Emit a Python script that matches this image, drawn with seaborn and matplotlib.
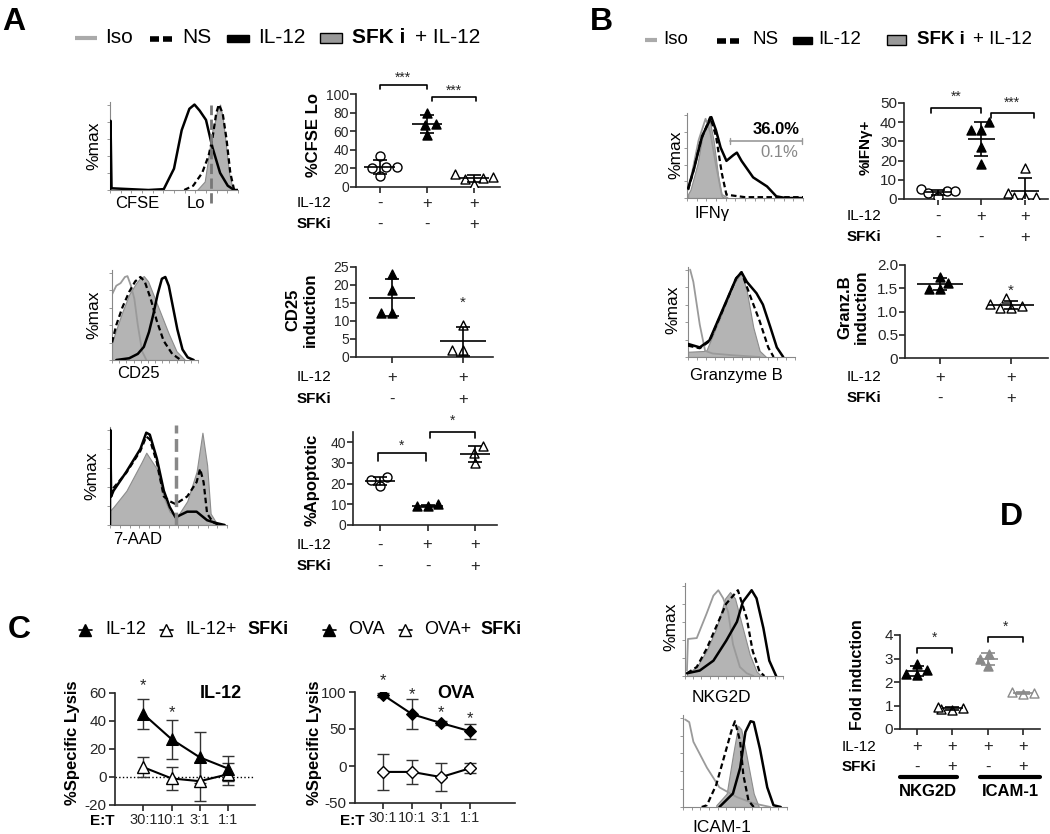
import numpy as np
import pandas as pd
import matplotlib
matplotlib.use("Agg")
import matplotlib.pyplot as plt
import matplotlib.transforms as mtrans
from matplotlib.patches import Rectangle
import seaborn as sns

W, H = 1050, 834
sns.set_style("ticks")
plt.rcParams['font.family'] = ['Liberation Sans', 'DejaVu Sans']
plt.rcParams['axes.unicode_minus'] = False

GRAY = '#9a9a9a'
FILL = '#b4b4b4'

# ---------------- histogram outlines (x, y as fraction of axis) ----------------
cfse_il12 = [(0, 0), (0.004, 0.81), (0.012, 0.02), (0.3, 0), (0.42, 0.01), (0.5, 0.25), (0.56, 0.7),
             (0.62, 0.95), (0.66, 1.0), (0.7, 0.93), (0.75, 0.82), (0.8, 0.5), (0.86, 0.2), (0.92, 0.05), (0.97, 0), (1, 0)]
cfse_ns = [(0.58, 0), (0.65, 0.05), (0.72, 0.2), (0.77, 0.4), (0.8, 0.6), (0.83, 0.9), (0.85, 1.0),
           (0.88, 0.9), (0.91, 0.6), (0.94, 0.2), (0.97, 0)]
cfse_sfk = [(0.68, 0), (0.74, 0.1), (0.78, 0.5), (0.8, 0.7), (0.82, 0.8), (0.84, 0.95), (0.86, 1.0),
            (0.88, 0.85), (0.9, 0.6), (0.93, 0.2), (0.96, 0)]

cd25_iso = [(0, 0.75), (0.05, 0.85), (0.1, 0.88), (0.15, 0.95), (0.18, 0.96), (0.22, 0.85), (0.26, 0.7),
            (0.3, 0.4), (0.35, 0.1), (0.4, 0)]
cd25_ns = [(0, 0.2), (0.05, 0.4), (0.12, 0.6), (0.2, 0.78), (0.27, 0.9), (0.33, 0.95), (0.38, 0.9),
           (0.45, 0.7), (0.52, 0.45), (0.6, 0.22), (0.7, 0.07), (0.8, 0)]
cd25_sfk = [(0, 0.2), (0.05, 0.35), (0.12, 0.55), (0.2, 0.75), (0.28, 0.88), (0.33, 0.94), (0.37, 0.96),
            (0.42, 0.9), (0.5, 0.7), (0.58, 0.5), (0.66, 0.3), (0.75, 0.1), (0.85, 0)]
cd25_il12 = [(0.05, 0), (0.2, 0.02), (0.3, 0.07), (0.37, 0.15), (0.43, 0.32), (0.48, 0.52), (0.53, 0.75),
             (0.58, 0.93), (0.62, 0.95), (0.66, 0.85), (0.7, 0.65), (0.76, 0.35), (0.82, 0.12), (0.88, 0.03), (0.95, 0)]

aad_il12 = [(0, 0), (0.002, 1.0), (0.01, 0.3), (0.03, 0.36), (0.14, 0.56), (0.26, 0.8), (0.31, 0.97),
            (0.34, 0.95), (0.4, 0.7), (0.46, 0.36), (0.51, 0.19), (0.56, 0.08), (0.66, 0.14), (0.74, 0.14),
            (0.83, 0.05), (0.91, 0.02), (0.98, 0)]
aad_ns = [(0, 0.3), (0.03, 0.39), (0.14, 0.55), (0.26, 0.78), (0.31, 0.93), (0.34, 0.9), (0.4, 0.66),
          (0.46, 0.3), (0.51, 0.25), (0.56, 0.22), (0.66, 0.3), (0.74, 0.45), (0.77, 0.59), (0.8, 0.45),
          (0.83, 0.12), (0.88, 0.03), (0.93, 0)]
aad_sfk = [(0, 0.15), (0.03, 0.19), (0.14, 0.36), (0.27, 0.66), (0.31, 0.76), (0.4, 0.59), (0.46, 0.29),
           (0.51, 0.14), (0.57, 0.08), (0.66, 0.25), (0.74, 0.56), (0.79, 0.97), (0.83, 0.63), (0.86, 0.12),
           (0.91, 0.02), (0.95, 0)]

ifn_iso = [(0.01, 0.1), (0.05, 0.35), (0.1, 0.7), (0.16, 0.96), (0.2, 0.8), (0.25, 0.4), (0.3, 0.04), (0.35, 0)]
ifn_sfk = [(0.01, 0.05), (0.03, 0.1), (0.09, 0.41), (0.14, 0.8), (0.19, 0.98), (0.23, 0.69), (0.27, 0.25),
           (0.3, 0.02), (0.33, 0)]
ifn_ns = [(0.01, 0.1), (0.05, 0.3), (0.12, 0.7), (0.2, 0.98), (0.25, 0.75), (0.3, 0.3), (0.34, 0.04),
          (0.5, 0.01), (1, 0.01)]
ifn_il12 = [(0.01, 0.12), (0.06, 0.35), (0.13, 0.75), (0.21, 0.98), (0.25, 0.82), (0.29, 0.61), (0.34, 0.45),
            (0.4, 0.52), (0.43, 0.55), (0.47, 0.45), (0.57, 0.25), (0.69, 0.14), (0.77, 0.02), (0.85, 0), (1, 0)]

gzb_iso = [(0.02, 1.0), (0.05, 0.86), (0.11, 0.37), (0.16, 0.07), (0.23, 0.04), (0.42, 0.02), (0.67, 0)]
gzb_sfk = [(0, 0.06), (0.17, 0.07), (0.3, 0.45), (0.42, 0.82), (0.5, 0.97), (0.55, 0.75), (0.61, 0.34),
           (0.67, 0.07), (0.73, 0)]
gzb_ns = [(0, 0.13), (0.11, 0.1), (0.2, 0.18), (0.33, 0.55), (0.45, 0.9), (0.5, 0.97), (0.59, 0.67),
          (0.67, 0.41), (0.75, 0.11), (0.8, 0)]
gzb_il12 = [(0, 0.15), (0.11, 0.11), (0.2, 0.19), (0.33, 0.56), (0.45, 0.9), (0.5, 0.97), (0.55, 0.86),
            (0.64, 0.73), (0.7, 0.6), (0.77, 0.34), (0.83, 0.11), (0.89, 0)]

nkg_iso = [(0.02, 0.06), (0.03, 0.41), (0.12, 0.42), (0.22, 0.69), (0.29, 0.89), (0.34, 0.95), (0.39, 0.86),
           (0.44, 0.71), (0.49, 0.35), (0.56, 0.1), (0.63, 0.03), (0.7, 0)]
nkg_sfk = [(0.02, 0.03), (0.12, 0.1), (0.22, 0.28), (0.32, 0.53), (0.41, 0.86), (0.46, 0.93), (0.51, 0.86),
           (0.58, 0.57), (0.66, 0.24), (0.73, 0.05), (0.78, 0)]
nkg_ns = [(0.02, 0.03), (0.12, 0.1), (0.22, 0.3), (0.32, 0.55), (0.42, 0.8), (0.54, 0.95), (0.63, 0.64),
          (0.69, 0.28), (0.76, 0.05), (0.81, 0)]
nkg_il12 = [(0.02, 0.03), (0.15, 0.06), (0.29, 0.17), (0.42, 0.39), (0.53, 0.6), (0.59, 0.82), (0.68, 0.95),
            (0.73, 0.86), (0.8, 0.53), (0.86, 0.17), (0.93, 0)]

icam_iso = [(0.02, 0.98), (0.06, 0.95), (0.1, 0.73), (0.23, 0.44), (0.35, 0.22), (0.52, 0.11), (0.68, 0.04), (0.84, 0)]
icam_ns = [(0.18, 0), (0.23, 0.02), (0.32, 0.25), (0.4, 0.58), (0.47, 0.87), (0.5, 0.96), (0.55, 0.73),
           (0.58, 0.36), (0.63, 0.07), (0.68, 0)]
icam_sfk = [(0.32, 0.02), (0.42, 0.15), (0.48, 0.58), (0.53, 0.91), (0.56, 0.87), (0.61, 0.58), (0.68, 0.15),
            (0.73, 0)]
icam_il12 = [(0.35, 0), (0.48, 0.15), (0.55, 0.44), (0.6, 0.84), (0.65, 0.96), (0.68, 0.95), (0.74, 0.65),
             (0.81, 0.22), (0.87, 0.02), (0.94, 0)]

# ---------------- dot plot values ----------------
cfse_ns_pts = [33, 21, 20, 22, 12]
cfse_il12_pts = [80, 67, 68, 56]
cfse_sfk_pts = [10, 9, 11, 14, 3]
cd25_il12_pts = [23, 18.5, 12.3, 12.3]
cd25_sfk_pts = [9, 2, 2]
apo_ns_pts = [23, 22, 19]
apo_il12_pts = [10, 9, 9]
apo_sfk_pts = [38, 35, 30]
ifn_ns_pts = [4, 5, 3, 1, 4]
ifn_il12_pts = [40, 36, 36, 27, 18]
ifn_sfk_pts = [16, 1, 1, 1, 3]
gzb_il12_pts = [1.75, 1.62, 1.48, 1.48]
gzb_sfk_pts = [1.28, 1.17, 1.08, 1.08, 1.12]
nkg_il12_pts = [2.75, 2.5, 2.3, 2.35]
nkg_sfk_pts = [0.9, 0.85, 0.95, 0.8]
icam_il12_pts = [3.2, 3.0, 2.7]
icam_sfk_pts = [1.55, 1.5, 1.58]

# ---------------- lysis curves ----------------
et_ratios = ['30:1', '10:1', '3:1', '1:1']
lys_il12 = [45, 27, 14, 6]
lys_il12_err = [11, 14, 18, 9]
lys_il12_sfk = [7, -1, -3, 2]
lys_il12_sfk_err = [7, 8, 14, 8]
lys_ova = [96, 70, 58, 47]
lys_ova_err = [3, 20, 3, 10]
lys_ova_sfk = [-8, -8, -15, -3]
lys_ova_sfk_err = [24, 16, 19, 7]

fig = plt.figure(figsize=(W / 100, H / 100), dpi=100)


def px_ax(x0, y0, x1, y1):
    ax = fig.add_axes([x0 / W, 1 - y1 / H, (x1 - x0) / W, (y1 - y0) / H])
    ax.patch.set_visible(False)
    return ax


ov = fig.add_axes([0, 0, 1, 1], zorder=10)
ov.set_xlim(0, W)
ov.set_ylim(H, 0)
ov.axis('off')
ov.patch.set_visible(False)


def hist(box, iso=None, ns=None, il12=None, sfk=None):
    ax = px_ax(*box)
    if sfk is not None:
        x, y = zip(*sfk)
        ax.fill_between(x, y, color=FILL, edgecolor='#8c8c8c', lw=0.8, zorder=1)
    if iso is not None:
        x, y = zip(*iso)
        ax.plot(x, y, color=GRAY, lw=1.3, zorder=2)
    if ns is not None:
        x, y = zip(*ns)
        ax.plot(x, y, color='k', lw=1.6, dashes=(2.5, 1.5), zorder=3)
    if il12 is not None:
        x, y = zip(*il12)
        ax.plot(x, y, color='k', lw=1.8, zorder=4)
    ax.set_xlim(0, 1)
    ax.set_ylim(0, 1.03)
    sns.despine(ax=ax)
    for s in ['left', 'bottom']:
        ax.spines[s].set_color('#888')
    ax.set_yticks(np.linspace(0, 1, 6))
    ax.set_xticks(np.linspace(0, 1, 13))
    ax.set_xticklabels([])
    ax.set_yticklabels([])
    ax.tick_params(length=2.5, width=0.6, color='#888')
    return ax


def txt(x, y, s, fs=11, bold=False, ha='left', color='k', rot=0, **kw):
    ov.text(x, y, s, fontsize=fs, fontweight='bold' if bold else 'normal', ha=ha, va='center',
            color=color, rotation=rot, **kw)


def dotplot(box, groups, styles, xlim, ylim, yticks, ylabels, fs=10, hw=0.32):
    ax = px_ax(*box)
    cats = [str(i) for i in range(len(groups))]
    df = pd.DataFrame({'grp': [c for c, g in zip(cats, groups) for _ in g],
                       'val': [v for g in groups for v in g]})
    for i, (vals, st) in enumerate(zip(groups, styles)):
        face, edge, mk, line = st
        sns.swarmplot(data=df[df.grp == cats[i]], x='grp', y='val', order=cats, ax=ax,
                      marker=mk, color=face, edgecolor=edge, linewidth=1, size=6.5, zorder=3)
        m, sd = np.mean(vals), np.std(vals, ddof=1)
        ax.hlines(m, i - hw, i + hw, color=line, lw=1.2, zorder=4)
        ax.errorbar(i, m, yerr=sd, color=line, capsize=5, lw=1.2, capthick=1.2, zorder=4)
    ax.set_xlim(*xlim)
    ax.set_ylim(*ylim)
    ax.set_yticks(yticks)
    ax.set_yticklabels(ylabels, fontsize=fs)
    ax.set_xticks(range(len(groups)))
    ax.set_xticklabels([])
    ax.set_xlabel('')
    ax.set_ylabel('')
    sns.despine(ax=ax)
    for s in ['left', 'bottom']:
        ax.spines[s].set_linewidth(1.2)
    ax.tick_params(length=4, width=1.2, pad=1)
    return ax


def rows(ax, xlab, spec, fs=11):
    trans = mtrans.blended_transform_factory(ax.transData, ov.transData)
    for y, label, signs, bold in spec:
        txt(xlab, y, label, fs=fs, bold=bold)
        for i, s in enumerate(signs):
            ax.text(i, y, s, transform=trans, ha='center', va='center', fontsize=12)


def bracket(ax, x0, x1, y, leg, star, ty, fs=10, color='k'):
    ax.plot([x0, x0, x1, x1], [y - leg, y, y, y - leg], color=color, lw=1.2, clip_on=False)
    ax.text((x0 + x1) / 2, ty, star, ha='center', va='center', fontsize=fs, clip_on=False)


def legend_row(x_iso, x_ns, x_il, x_box, y, fs, xt, iso_len, dash, rect_w):
    ov.plot([x_iso, x_iso + iso_len], [y + 1, y + 1], color='#aaa', lw=3, solid_capstyle='butt')
    ov.plot([x_ns, x_ns + dash], [y + 2, y + 2], color='k', lw=4, solid_capstyle='butt')
    ov.plot([x_ns + dash + 4, x_ns + 2 * dash + 4], [y + 2, y + 2], color='k', lw=4, solid_capstyle='butt')
    ov.add_patch(Rectangle((x_il, y - 2), rect_w, 7, color='k'))
    ov.add_patch(Rectangle((x_box, y - 4), rect_w, 10, facecolor='#999', edgecolor='k', lw=1))
    for (x, s, b) in zip(xt, ['Iso', 'NS', 'IL-12', 'SFK i', '+ IL-12'], [0, 0, 0, 1, 0]):
        txt(x, y, s, fs=fs, bold=bool(b))


NS = ('white', 'k', 'o', 'k')
IL = ('k', 'k', '^', 'k')
SF = ('white', 'k', '^', 'k')
IL_G = ('#8a8a8a', '#8a8a8a', '^', '#8a8a8a')
SF_G = ('white', '#8a8a8a', '^', '#8a8a8a')

# ================= Panel A =================
txt(2, 22, 'A', fs=23, bold=True)
legend_row(75, 150, 227, 320, 37, 15, [105, 182, 258, 352, 415], 22, 9, 22)

h = hist((110, 102, 238, 190), ns=cfse_ns, il12=cfse_il12, sfk=cfse_sfk)
h.plot([0.79, 0.79], [-0.15, 1.0], color='#777', lw=2, ls='--', clip_on=False, zorder=5)
txt(94, 146, '%max', fs=12.5, ha='center', rot=90)
txt(115, 203, 'CFSE', fs=12)
txt(187, 203, 'Lo', fs=12)

hist((112, 270, 198, 360), iso=cd25_iso, ns=cd25_ns, il12=cd25_il12, sfk=cd25_sfk)
txt(94, 315, '%max', fs=12.5, ha='center', rot=90)
txt(117, 373, 'CD25', fs=12)

h = hist((110, 427, 227, 525), ns=aad_ns, il12=aad_il12, sfk=aad_sfk)
h.plot([0.56, 0.56], [0, 1.05], color='#888', lw=2.5, ls='--', clip_on=False, zorder=5)
txt(92, 476, '%max', fs=12.5, ha='center', rot=90)
txt(113, 540, '7-AAD', fs=12)

ax = dotplot((356, 94, 500, 187), [cfse_ns_pts, cfse_il12_pts, cfse_sfk_pts], [NS, IL, SF],
             (-0.5, 2.55), (0, 100), [0, 20, 40, 60, 80, 100], ['0', '20', '40', '60', '80', '100'])
bracket(ax, 0, 1, 110, 5, '***', 117)
bracket(ax, 1.1, 2.05, 97, 5, '***', 103)
txt(313, 135, '%CFSE Lo', fs=12, bold=True, ha='center', rot=90)
rows(ax, 297, [(203, 'IL-12', ['-', '+', '+'], False), (224, 'SFKi', ['-', '-', '+'], True)])

ax = dotplot((356, 267, 493, 357), [cd25_il12_pts, cd25_sfk_pts], [IL, SF],
             (-0.5, 1.42), (0, 25), [0, 5, 10, 15, 20, 25], ['0', '5', '10', '15', '20', '25'], hw=0.32)
ax.text(1, 15, '*', ha='center', va='center', fontsize=11)
txt(293, 310, 'CD25', fs=12, bold=True, ha='center', rot=90)
txt(310, 310, 'induction', fs=12, bold=True, ha='center', rot=90)
rows(ax, 297, [(377, 'IL-12', ['+', '+'], False), (399, 'SFKi', ['-', '+'], True)])

ax = dotplot((353, 432, 497, 525), [apo_ns_pts, apo_il12_pts, apo_sfk_pts], [NS, IL, SF],
             (-0.57, 2.46), (0, 45), [0, 10, 20, 30, 40], ['0', '10', '20', '30', '40'])
bracket(ax, -0.05, 0.97, 34.7, 3.5, '*', 38.5)
bracket(ax, 1.05, 2.0, 44.8, 2.5, '*', 50.6)
txt(312, 480, '%Apoptotic', fs=12, bold=True, ha='center', rot=90)
rows(ax, 297, [(545, 'IL-12', ['-', '+', '+'], False), (566, 'SFKi', ['-', '-', '+'], True)])

# ================= Panel B =================
txt(590, 22, 'B', fs=23, bold=True)
legend_row(645, 717, 793, 887, 39, 13.5, [663, 752, 818, 917, 973], 12, 9, 19)

hist((687, 113, 803, 198), iso=ifn_iso, ns=ifn_ns, il12=ifn_il12, sfk=ifn_sfk)
txt(676, 155, '%max', fs=12.5, ha='center', rot=90)
txt(694, 213, 'IFNγ', fs=12)
ov.plot([730, 802], [141, 141], color='#999', lw=1.2)
ov.plot([730, 730], [138, 144], color='#999', lw=1)
ov.plot([802, 802], [138, 144], color='#999', lw=1)
txt(800, 129, '36.0%', fs=12, bold=True, ha='right')
txt(798, 152, '0.1%', fs=12, ha='right', color='#888')

hist((688, 267, 795, 357), iso=gzb_iso, ns=gzb_ns, il12=gzb_il12, sfk=gzb_sfk)
txt(673, 310, '%max', fs=12.5, ha='center', rot=90)
txt(690, 375, 'Granzyme B', fs=12)

ax = dotplot((904, 103, 1048, 199), [ifn_ns_pts, ifn_il12_pts, ifn_sfk_pts], [NS, IL, SF],
             (-0.78, 2.53), (0, 50), [0, 10, 20, 30, 40, 50], ['0', '10', '20', '30', '40', '50'], fs=11)
bracket(ax, -0.17, 1.0, 47.4, 2.6, '**', 53)
bracket(ax, 1.22, 2.2, 44.8, 2.8, '***', 50)
txt(866, 147, '%IFNγ+', fs=11, bold=True, ha='center', rot=90)
rows(ax, 847, [(216, 'IL-12', ['-', '+', '+'], False), (237, 'SFKi', ['-', '-', '+'], True)])

ax = dotplot((905, 265, 1048, 358), [gzb_il12_pts, gzb_sfk_pts], [IL, SF],
             (-0.49, 1.52), (0, 2.0), [0, 0.5, 1.0, 1.5, 2.0], ['0', '0.5', '1.0', '1.5', '2.0'], fs=11)
ax.text(1, 1.45, '*', ha='center', va='center', fontsize=11)
txt(845, 307, 'Granz.B', fs=12, bold=True, ha='center', rot=90)
txt(861, 307, 'induction', fs=12, bold=True, ha='center', rot=90)
rows(ax, 847, [(377, 'IL-12', ['+', '+'], False), (398, 'SFKi', ['-', '+'], True)])

# ================= Panel C =================
txt(8, 630, 'C', fs=23, bold=True)
for mx, tx, label, face in [(85, 105, 'IL-12', 'k'), (166, 185, 'IL-12+', 'white'),
                            (329, 348, 'OVA', 'k'), (405, 424, 'OVA+', 'white')]:
    ov.plot([mx - 6, mx + 7], [630, 630], color='k', lw=1.2)
    ov.plot([mx], [630], marker='^', mfc=face, mec='k', ms=8)
    txt(tx, 630, label, fs=13)
txt(247, 630, 'SFKi', fs=13, bold=True)
txt(480, 630, 'SFKi', fs=13, bold=True)


def lysis(box, xlim, ylim, yticks, filled, ferr, opened, oerr, mk, ms):
    ax = px_ax(*box)
    pos = np.arange(len(et_ratios))
    ax.errorbar(pos, filled, yerr=ferr, fmt='none', ecolor='#333', capsize=4, lw=1, zorder=2)
    ax.errorbar(pos, opened, yerr=oerr, fmt='none', ecolor='#333', capsize=4, lw=1, zorder=2)
    sns.lineplot(x=pos, y=filled, ax=ax, color='k', lw=1.5, marker=mk, markersize=ms,
                 markerfacecolor='k', markeredgecolor='k', zorder=4)
    sns.lineplot(x=pos, y=opened, ax=ax, color='k', lw=1.5, marker=mk, markersize=ms,
                 markerfacecolor='white', markeredgecolor='k', markeredgewidth=1, zorder=3)
    ax.set_xlim(*xlim)
    ax.set_ylim(*ylim)
    ax.set_yticks(yticks)
    ax.set_yticklabels([str(t) for t in yticks], fontsize=11)
    ax.set_xticks(pos)
    ax.set_xticklabels(et_ratios, fontsize=10.5)
    sns.despine(ax=ax)
    for s in ['left', 'bottom']:
        ax.spines[s].set_linewidth(1.2)
    ax.tick_params(length=4, width=1.2, pad=2)
    return ax


ax = lysis((115, 693, 255, 805), (-1.0, 3.95), (-20, 60), [-20, 0, 20, 40, 60],
           lys_il12, lys_il12_err, lys_il12_sfk, lys_il12_sfk_err, '^', 8)
ax.axhline(0, color='k', lw=1, ls=':', zorder=1)
ax.text(0, 65, '*', ha='center', va='center', fontsize=12, clip_on=False)
ax.text(1, 46, '*', ha='center', va='center', fontsize=12)
txt(200, 694, 'IL-12', fs=13, bold=True)
txt(72, 743, '%Specific Lysis', fs=12, bold=True, ha='center', rot=90)
txt(90, 821, 'E:T', fs=11, bold=True)

ax = lysis((355, 692, 515, 803), (-0.97, 4.55), (-50, 100), [-50, 0, 50, 100],
           lys_ova, lys_ova_err, lys_ova_sfk, lys_ova_sfk_err, 'D', 6)
for i, sy in enumerate([116, 97, 72, 64]):
    ax.text(i, sy, '*', ha='center', va='center', fontsize=12, clip_on=False)
txt(437, 694, 'OVA', fs=13, bold=True)
txt(315, 743, '%Specific Lysis', fs=12, bold=True, ha='center', rot=90)
txt(340, 821, 'E:T', fs=11, bold=True)

# ================= Panel D =================
txt(1000, 517, 'D', fs=23, bold=True)
hist((685, 583, 783, 676), iso=nkg_iso, ns=nkg_ns, il12=nkg_il12, sfk=nkg_sfk)
txt(671, 627, '%max', fs=12.5, ha='center', rot=90)
txt(692, 697, 'NKG2D', fs=12.5)
hist((683, 715, 787, 807), iso=icam_iso, ns=icam_ns, il12=icam_il12, sfk=icam_sfk)
txt(692, 828, 'ICAM-1', fs=12.5)

ax = dotplot((900, 635, 1040, 729), [nkg_il12_pts, nkg_sfk_pts, icam_il12_pts, icam_sfk_pts],
             [IL, SF, IL_G, SF_G], (-0.48, 3.48), (0, 4), [0, 1, 2, 3, 4], ['0', '1', '2', '3', '4'],
             fs=11, hw=0.29)
bracket(ax, 0, 1, 3.45, 0.2, '*', 3.87)
bracket(ax, 2, 3, 3.9, 0.2, '*', 4.34)
txt(858, 675, 'Fold induction', fs=11.5, bold=True, ha='center', rot=90)
rows(ax, 842, [(747, 'IL-12', ['+', '+', '+', '+'], False), (767, 'SFKi', ['-', '+', '-', '+'], True)])
ov.plot([900, 957], [777, 777], color='k', lw=3)
ov.plot([980, 1040], [777, 777], color='k', lw=3)
txt(928, 791, 'NKG2D', fs=12, bold=True, ha='center')
txt(1010, 791, 'ICAM-1', fs=12, bold=True, ha='center')

fig.savefig('out.png', dpi=100)
